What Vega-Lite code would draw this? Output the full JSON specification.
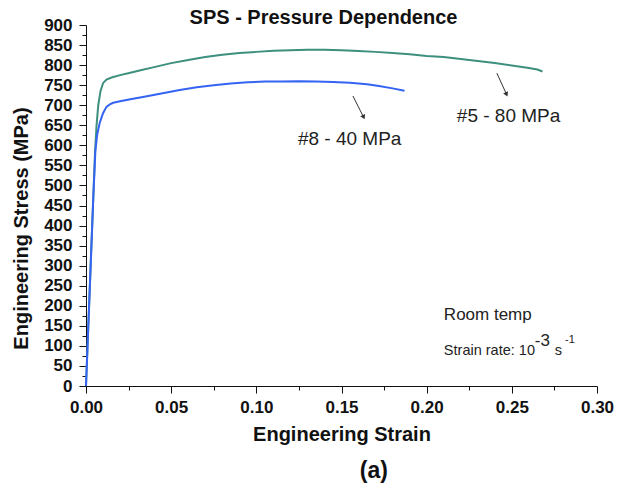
{
  "$schema": "https://vega.github.io/schema/vega-lite/v6.json",
  "width": 511,
  "height": 361,
  "autosize": "none",
  "padding": {"left": 86, "top": 25, "right": 37, "bottom": 101},
  "title": {"text": "SPS - Pressure Dependence", "fontSize": 20, "font": "Liberation Sans", "fontWeight": "bold", "color": "#111", "baseline": "alphabetic", "offset": 2, "dx": -18, "dy": 30, "anchor": "middle", "frame": "group"},
  "config": {
    "view": {"stroke": null},
    "font": "Liberation Sans",
    "axis": {"grid": false, "domainColor": "#111", "tickColor": "#111", "labelColor": "#111", "titleColor": "#111", "labelFont": "Liberation Sans", "titleFont": "Liberation Sans", "labelFontWeight": "bold", "titleFontWeight": "bold", "labelFontSize": 17, "titleFontSize": 20, "labelOverlap": false, "labelFlush": false}
  },
  "encoding": {
    "x": {"field": "strain", "type": "quantitative", "scale": {"domain": [0, 0.3], "nice": false},
      "axis": {"title": "Engineering Strain", "values": [0, 0.025, 0.05, 0.075, 0.1, 0.125, 0.15, 0.175, 0.2, 0.225, 0.25, 0.275, 0.3],
        "labelExpr": "round(datum.value*1000) % 50 == 0 ? format(datum.value, '.2f') : ''",
        "tickSize": {"condition": {"test": "round(datum.value*1000) % 50 == 0", "value": 7}, "value": 4},
        "labelOverlap": false, "labelPadding": 6, "titlePadding": 9}},
    "y": {"field": "stress", "type": "quantitative", "scale": {"domain": [0, 900], "nice": false},
      "axis": {"title": "Engineering Stress (MPa)", "values": [0,25,50,75,100,125,150,175,200,225,250,275,300,325,350,375,400,425,450,475,500,525,550,575,600,625,650,675,700,725,750,775,800,825,850,875,900],
        "labelExpr": "datum.value % 50 == 0 ? datum.label : ''",
        "tickSize": {"condition": {"test": "datum.value % 50 == 0", "value": 7}, "value": 4},
        "labelOverlap": false, "labelPadding": 7, "titlePadding": 12, "titleY": 203}}
  },
  "layer": [
    {
      "data": {"values": [
        {"series": "#5 - 80 MPa", "strain": 0, "stress": 0},
        {"series": "#5 - 80 MPa", "strain": 0.002, "stress": 220},
        {"series": "#5 - 80 MPa", "strain": 0.004, "stress": 440},
        {"series": "#5 - 80 MPa", "strain": 0.0053, "stress": 583},
        {"series": "#5 - 80 MPa", "strain": 0.0062, "stress": 650},
        {"series": "#5 - 80 MPa", "strain": 0.0072, "stress": 700},
        {"series": "#5 - 80 MPa", "strain": 0.0085, "stress": 735},
        {"series": "#5 - 80 MPa", "strain": 0.010, "stress": 755},
        {"series": "#5 - 80 MPa", "strain": 0.012, "stress": 764},
        {"series": "#5 - 80 MPa", "strain": 0.015, "stress": 769},
        {"series": "#5 - 80 MPa", "strain": 0.020, "stress": 775},
        {"series": "#5 - 80 MPa", "strain": 0.026, "stress": 781},
        {"series": "#5 - 80 MPa", "strain": 0.032, "stress": 787},
        {"series": "#5 - 80 MPa", "strain": 0.040, "stress": 795},
        {"series": "#5 - 80 MPa", "strain": 0.050, "stress": 805},
        {"series": "#5 - 80 MPa", "strain": 0.060, "stress": 813},
        {"series": "#5 - 80 MPa", "strain": 0.070, "stress": 820},
        {"series": "#5 - 80 MPa", "strain": 0.080, "stress": 826},
        {"series": "#5 - 80 MPa", "strain": 0.090, "stress": 830},
        {"series": "#5 - 80 MPa", "strain": 0.100, "stress": 833},
        {"series": "#5 - 80 MPa", "strain": 0.110, "stress": 836},
        {"series": "#5 - 80 MPa", "strain": 0.120, "stress": 837},
        {"series": "#5 - 80 MPa", "strain": 0.130, "stress": 838},
        {"series": "#5 - 80 MPa", "strain": 0.140, "stress": 838},
        {"series": "#5 - 80 MPa", "strain": 0.150, "stress": 837},
        {"series": "#5 - 80 MPa", "strain": 0.160, "stress": 835},
        {"series": "#5 - 80 MPa", "strain": 0.170, "stress": 833},
        {"series": "#5 - 80 MPa", "strain": 0.180, "stress": 830},
        {"series": "#5 - 80 MPa", "strain": 0.190, "stress": 827},
        {"series": "#5 - 80 MPa", "strain": 0.200, "stress": 823},
        {"series": "#5 - 80 MPa", "strain": 0.210, "stress": 820},
        {"series": "#5 - 80 MPa", "strain": 0.220, "stress": 815},
        {"series": "#5 - 80 MPa", "strain": 0.230, "stress": 810},
        {"series": "#5 - 80 MPa", "strain": 0.240, "stress": 805},
        {"series": "#5 - 80 MPa", "strain": 0.250, "stress": 799},
        {"series": "#5 - 80 MPa", "strain": 0.260, "stress": 793},
        {"series": "#5 - 80 MPa", "strain": 0.265, "stress": 789},
        {"series": "#5 - 80 MPa", "strain": 0.268, "stress": 784},
        {"series": "#8 - 40 MPa", "strain": 0, "stress": 0},
        {"series": "#8 - 40 MPa", "strain": 0.002, "stress": 220},
        {"series": "#8 - 40 MPa", "strain": 0.0043, "stress": 472},
        {"series": "#8 - 40 MPa", "strain": 0.0055, "stress": 585},
        {"series": "#8 - 40 MPa", "strain": 0.0065, "stress": 625},
        {"series": "#8 - 40 MPa", "strain": 0.0080, "stress": 655},
        {"series": "#8 - 40 MPa", "strain": 0.010, "stress": 680},
        {"series": "#8 - 40 MPa", "strain": 0.012, "stress": 696},
        {"series": "#8 - 40 MPa", "strain": 0.014, "stress": 702},
        {"series": "#8 - 40 MPa", "strain": 0.016, "stress": 706},
        {"series": "#8 - 40 MPa", "strain": 0.020, "stress": 710},
        {"series": "#8 - 40 MPa", "strain": 0.026, "stress": 715},
        {"series": "#8 - 40 MPa", "strain": 0.035, "stress": 722},
        {"series": "#8 - 40 MPa", "strain": 0.045, "stress": 730},
        {"series": "#8 - 40 MPa", "strain": 0.055, "stress": 738},
        {"series": "#8 - 40 MPa", "strain": 0.065, "stress": 745},
        {"series": "#8 - 40 MPa", "strain": 0.075, "stress": 750},
        {"series": "#8 - 40 MPa", "strain": 0.085, "stress": 754},
        {"series": "#8 - 40 MPa", "strain": 0.095, "stress": 757},
        {"series": "#8 - 40 MPa", "strain": 0.105, "stress": 759},
        {"series": "#8 - 40 MPa", "strain": 0.115, "stress": 759},
        {"series": "#8 - 40 MPa", "strain": 0.125, "stress": 760},
        {"series": "#8 - 40 MPa", "strain": 0.135, "stress": 759},
        {"series": "#8 - 40 MPa", "strain": 0.145, "stress": 758},
        {"series": "#8 - 40 MPa", "strain": 0.155, "stress": 756},
        {"series": "#8 - 40 MPa", "strain": 0.165, "stress": 752},
        {"series": "#8 - 40 MPa", "strain": 0.172, "stress": 748},
        {"series": "#8 - 40 MPa", "strain": 0.180, "stress": 742},
        {"series": "#8 - 40 MPa", "strain": 0.187, "stress": 736}
      ]},
      "mark": {"type": "line", "strokeWidth": 2, "clip": false},
      "encoding": {
        "color": {"field": "series", "type": "nominal", "scale": {"domain": ["#5 - 80 MPa", "#8 - 40 MPa"], "range": ["#3d8f7e", "#3563f2"]}, "legend": null}
      }
    },
    {
      "data": {"values": [
        {"strain": 0.1567, "stress": 723, "strain2": 0.1630, "stress2": 670},
        {"strain": 0.2412, "stress": 780, "strain2": 0.2469, "stress2": 727}
      ]},
      "mark": {"type": "rule", "color": "#333", "strokeWidth": 1},
      "encoding": {
        "x2": {"field": "strain2"},
        "y2": {"field": "stress2"}
      }
    },
    {
      "data": {"values": [
        {"strain": 0.1630, "stress": 670},
        {"strain": 0.2469, "stress": 727}
      ]},
      "mark": {"type": "point", "shape": "triangle-down", "filled": true, "color": "#333", "size": 28, "angle": -25, "opacity": 1},
      "encoding": {}
    },
    {
      "data": {"values": [
        {"label": "#8 - 40 MPa", "strain": 0.1244, "stress": 601},
        {"label": "#5 - 80 MPa", "strain": 0.2177, "stress": 658}
      ]},
      "mark": {"type": "text", "align": "left", "baseline": "alphabetic", "fontSize": 19, "color": "#222"},
      "encoding": {"text": {"field": "label"}}
    },
    {
      "data": {"values": [{"label": "Room temp", "strain": 0.2101, "stress": 165}]},
      "mark": {"type": "text", "align": "left", "baseline": "alphabetic", "fontSize": 17, "color": "#222"},
      "encoding": {"text": {"field": "label"}}
    },
    {
      "data": {"values": [{"label": "Strain rate: 10", "strain": 0.2101, "stress": 77}, {"label": "s", "strain": 0.2752, "stress": 77}]},
      "mark": {"type": "text", "align": "left", "baseline": "alphabetic", "fontSize": 14.5, "color": "#222"},
      "encoding": {"text": {"field": "label"}}
    },
    {
      "data": {"values": [{"label": "-3", "strain": 0.2635, "stress": 100}]},
      "mark": {"type": "text", "align": "left", "baseline": "alphabetic", "fontSize": 17, "color": "#222"},
      "encoding": {"text": {"field": "label"}}
    },
    {
      "data": {"values": [{"label": "-1", "strain": 0.2812, "stress": 107}]},
      "mark": {"type": "text", "align": "left", "baseline": "alphabetic", "fontSize": 11, "color": "#222"},
      "encoding": {"text": {"field": "label"}}
    },
    {
      "data": {"values": [{"label": "(a)", "strain": 0.169, "stress": -212}]},
      "mark": {"type": "text", "align": "center", "baseline": "middle", "fontSize": 23, "fontWeight": "bold", "color": "#111"},
      "encoding": {"text": {"field": "label"}}
    }
  ]
}
